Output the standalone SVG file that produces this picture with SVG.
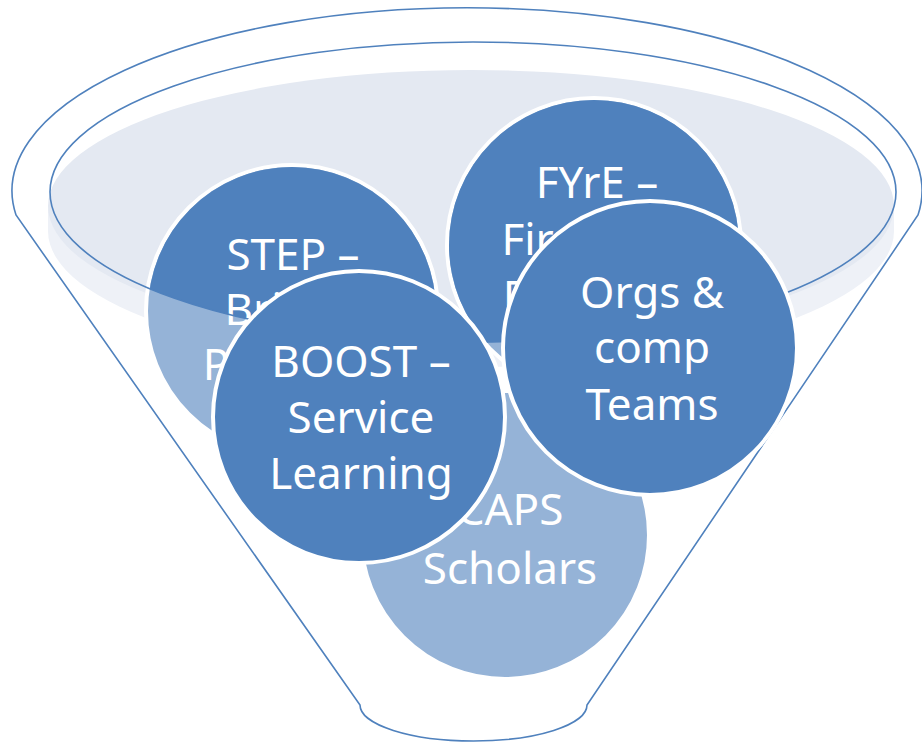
<svg xmlns="http://www.w3.org/2000/svg" width="922" height="742" viewBox="0 0 922 742">
<style>
.line{fill:none;stroke:#4F81BD;stroke-width:1.6}
.dark{fill:#4F81BD;stroke:#FFFFFF;stroke-width:4}
.light{fill:#95B3D7;stroke:#FFFFFF;stroke-width:4}
.darkin{fill:#4F81BD;stroke:none}
.lbl{font-family:"Noto Sans","Open Sans","DejaVu Sans",sans-serif;font-size:44px;fill:#FFFFFF;text-anchor:middle}
</style>
<defs>
<clipPath id="rim"><ellipse cx="473" cy="192" rx="423" ry="150"/></clipPath>
</defs>
<rect width="922" height="742" fill="#FFFFFF"/>
<g id="funnel">
<path class="line" d="M 16 215 A 455 183 0 1 1 918 215 L 587 705 A 113.5 36 0 0 1 360 705 Z" fill="#FFFFFF"/>
<ellipse cx="471" cy="231" rx="423" ry="136" fill="#EEF1F7"/>
<rect x="48" y="206" width="846" height="25" fill="#EEF1F7"/>
<ellipse cx="471" cy="206" rx="423" ry="136" fill="#E4E9F2"/>
</g>
<g id="caps">
<circle class="light" cx="505" cy="535" r="144"/>
<text class="lbl" x="510" y="525">CAPS</text>
<text class="lbl" x="510" y="584">Scholars</text>
</g>
<g id="step">
<circle class="light" cx="292" cy="311" r="146"/>
<circle class="darkin" cx="292" cy="311" r="144" clip-path="url(#rim)"/>
<text class="lbl" x="293" y="270">STEP –</text>
<text class="lbl" x="293" y="325">Bridge</text>
<text class="lbl" x="293" y="380">Program</text>
</g>
<g id="fyre">
<circle class="light" cx="594" cy="245" r="147"/>
<circle class="darkin" cx="594" cy="245" r="145" clip-path="url(#rim)"/>
<text class="lbl" x="597" y="198">FYrE –</text>
<text class="lbl" x="597" y="255">First Year</text>
<text class="lbl" x="597" y="312">Research</text>
</g>
<g id="rim-line">
<ellipse class="line" cx="473" cy="192" rx="423" ry="150"/>
</g>
<g id="boost">
<circle class="dark" cx="359" cy="417" r="146"/>
<text class="lbl" x="361" y="377">BOOST –</text>
<text class="lbl" x="361" y="433">Service</text>
<text class="lbl" x="361" y="489">Learning</text>
</g>
<g id="orgs">
<circle class="dark" cx="650" cy="348" r="147"/>
<text class="lbl" x="652" y="308">Orgs &amp;</text>
<text class="lbl" x="652" y="363">comp</text>
<text class="lbl" x="652" y="420">Teams</text>
</g>
</svg>
